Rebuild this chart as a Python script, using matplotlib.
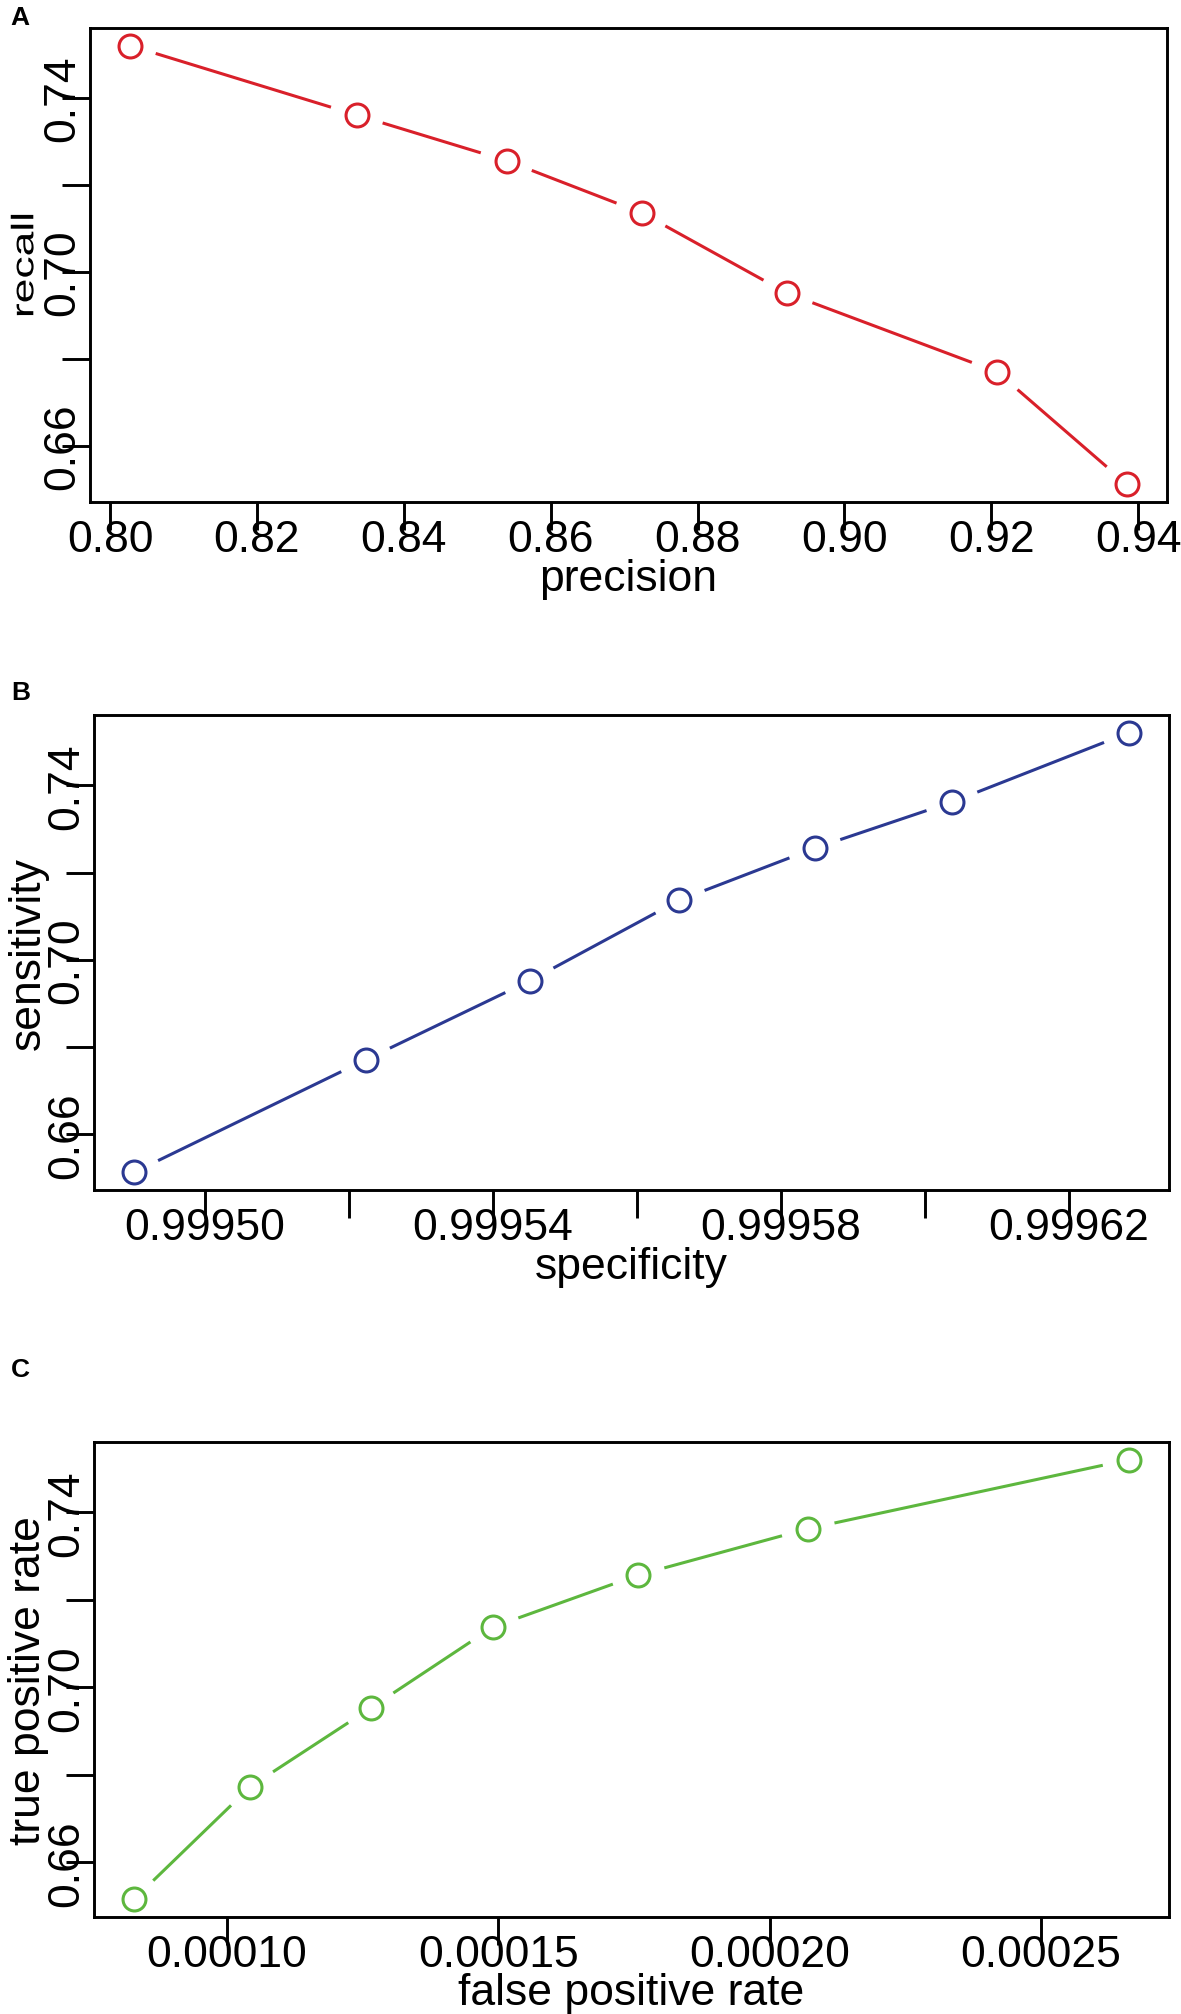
import matplotlib
matplotlib.use('Agg')
import matplotlib.pyplot as plt
import numpy as np
from matplotlib.patheffects import AbstractPathEffect
from matplotlib.transforms import Affine2D

# ---------------- data ----------------
precision = [0.8027, 0.8336, 0.8540, 0.8724, 0.8922, 0.9208, 0.9385]
recall = [0.7521, 0.7361, 0.7256, 0.7136, 0.6951, 0.6770, 0.6511]

specificity = [0.9994901, 0.9995223, 0.9995451, 0.9995659, 0.9995847, 0.9996038, 0.9996284]
sensitivity = [0.6513, 0.6771, 0.6952, 0.7137, 0.7256, 0.7362, 0.7521]

fpr = [0.0000828, 0.0001043, 0.0001265, 0.0001490, 0.0001758, 0.0002071, 0.0002663]
tpr = [0.6515, 0.6773, 0.6953, 0.7138, 0.7257, 0.7363, 0.7521]

y_ticks = [0.66, 0.68, 0.70, 0.72, 0.74]
y_ticklabels = ["0.66", "", "0.70", "", "0.74"]

a_xticks = [0.80, 0.82, 0.84, 0.86, 0.88, 0.90, 0.92, 0.94]
a_xticklabels = ["0.80", "0.82", "0.84", "0.86", "0.88", "0.90", "0.92", "0.94"]

b_xticks = [0.99950, 0.99952, 0.99954, 0.99956, 0.99958, 0.99960, 0.99962]
b_xticklabels = ["0.99950", "", "0.99954", "", "0.99958", "", "0.99962"]

c_xticks = [0.00010, 0.00015, 0.00020, 0.00025]
c_xticklabels = ["0.00010", "0.00015", "0.00020", "0.00025"]

panel_letters = ["A", "B", "C"]
x_titles = ["precision", "specificity", "false positive rate"]
y_titles = ["recall", "sensitivity", "true positive rate"]
colors = ["#D9202A", "#2B3992", "#5DB73E"]

# ---------------- figure ----------------
W, H = 1181, 2015
DPI = 100
plt.rcParams['font.family'] = ['Liberation Sans', 'DejaVu Sans']
fig = plt.figure(figsize=(W / DPI, H / DPI), dpi=DPI)

# box geometry in pixels (left, right, top, bottom), top-origin
boxes = [(90, 1167, 29, 503), (94, 1169, 716, 1191), (94, 1169, 1443, 1918)]
ylab_x = [33.3, 40.0, 40.0]
ylab_squash = [0.70, 1.0, 1.0]
letter_pos = [(10, 25), (11, 700), (11, 1377)]


class SquashX(AbstractPathEffect):
    """Compress drawn text horizontally about a display x position."""
    def __init__(self, x0, sx):
        super().__init__()
        self.x0 = x0
        self.sx = sx

    def draw_path(self, renderer, gc, tpath, affine, rgbFace=None):
        t = affine + Affine2D().translate(-self.x0, 0).scale(self.sx, 1.0).translate(self.x0, 0)
        renderer.draw_path(gc, tpath, t, rgbFace)


def r_lim(v):
    lo, hi = min(v), max(v)
    d = (hi - lo) * 0.04
    return lo - d, hi + d


def draw_b(ax, x, y, color, gap_px=27):
    pts = ax.transData.transform(np.column_stack([x, y]))
    inv = ax.transData.inverted()
    for i in range(len(pts) - 1):
        p0, p1 = pts[i], pts[i + 1]
        d = p1 - p0
        L = np.hypot(d[0], d[1])
        if L <= 2 * gap_px:
            continue
        u = d / L
        a = inv.transform(p0 + u * gap_px)
        b = inv.transform(p1 - u * gap_px)
        ax.plot([a[0], b[0]], [a[1], b[1]], color=color, lw=2.2,
                solid_capstyle='butt', zorder=2)
    ax.plot(x, y, linestyle='none', marker='o', ms=16.5, mfc='none',
            mec=color, mew=2.2, zorder=3, clip_on=False)


datasets = [(precision, recall, a_xticks, a_xticklabels),
            (specificity, sensitivity, b_xticks, b_xticklabels),
            (fpr, tpr, c_xticks, c_xticklabels)]

for i, (xs, ys, xt, xtl) in enumerate(datasets):
    L, R, T, B = boxes[i]
    ax = fig.add_axes([L / W, (H - B) / H, (R - L) / W, (B - T) / H])
    ax.set_xlim(*r_lim(xs))
    ax.set_ylim(*r_lim(ys))
    for s in ax.spines.values():
        s.set_linewidth(2.1)
        s.set_color('black')
    ax.set_xticks(xt, xtl)
    ax.set_yticks(y_ticks, y_ticklabels, rotation=90, va='center')
    ax.tick_params(axis='both', direction='out', length=20, width=2.1,
                   labelsize=32, colors='black')
    ax.tick_params(axis='x', pad=-8)
    ax.tick_params(axis='y', pad=-15)

    draw_b(ax, xs, ys, colors[i])

    bh = B - T
    bw = R - L
    ax.set_xlabel(x_titles[i], fontsize=32)
    ax.xaxis.set_label_coords(0.5, -87.5 / bh)
    ax.xaxis.label.set_va('baseline')

    ax.set_ylabel(y_titles[i], fontsize=32)
    ax.yaxis.set_label_coords((ylab_x[i] - L) / bw, 0.5)
    ax.yaxis.label.set_va('baseline')
    ax.yaxis.label.set_ha('center')
    if ylab_squash[i] != 1.0:
        ax.yaxis.label.set_path_effects([SquashX(ylab_x[i], ylab_squash[i])])

    lx, ly = letter_pos[i]
    fig.text(lx / W, 1 - ly / H, panel_letters[i], fontsize=19,
             fontweight='bold', ha='left', va='baseline')

fig.savefig('out.png', dpi=DPI, facecolor='white')
